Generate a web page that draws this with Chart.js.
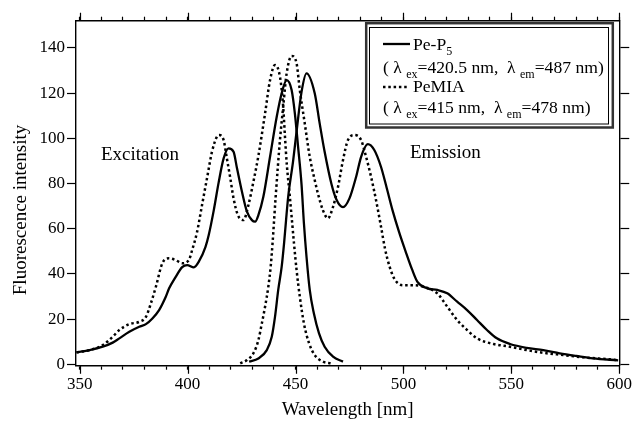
<!DOCTYPE html>
<html lang="en">
<head>
  <meta charset="UTF-8">
  <title>Fluorescence spectra: Pe-P5 and PeMIA</title>
  <script src="https://cdn.jsdelivr.net/npm/chart.js"></script>
  <style>
    body { margin: 0; background: #fff; }
    #wrap { width: 637px; height: 426px; position: relative; }
  </style>
</head>
<body>
  <div id="wrap"><canvas id="spectra"></canvas></div>

  <script>
    // Pe-P5 excitation (solid)
    const peP5ExWl  = [348.5, 354.6, 360.7, 365.3, 368.4, 373.0, 377.6, 380.7, 383.7, 386.8, 389.9, 391.4, 394.5, 397.5, 399.8, 402.9, 405.2, 408.3, 409.8, 412.1, 414.4, 416.7, 419.0, 421.3, 422.9, 425.2, 427.5, 429.8, 431.3, 432.8, 435.1, 438.2, 441.3, 443.6, 445.9, 448.2, 449.7, 451.2, 452.8, 453.9, 455.1, 456.6, 458.5, 460.9, 463.5, 467.4, 472.0];
    const peP5ExInt = [5.3, 6.3, 7.8, 9.6, 11.5, 14.4, 16.6, 17.8, 20.3, 24.0, 29.9, 33.5, 38.7, 43.0, 43.9, 42.9, 45.4, 52.0, 57.2, 68.0, 80.5, 91.1, 95.5, 94.0, 86.7, 76.3, 67.5, 63.8, 63.1, 66.0, 74.1, 91.8, 109.5, 119.9, 125.7, 121.3, 111.0, 96.2, 79.5, 62.4, 47.6, 32.9, 22.6, 13.7, 7.8, 3.4, 1.2];

    // Pe-P5 emission (solid)
    const peP5EmWl  = [428.5, 432.8, 436.7, 439.0, 440.5, 442.0, 443.6, 444.7, 445.6, 446.6, 448.9, 450.5, 452.8, 455.1, 458.9, 461.2, 463.5, 466.6, 468.9, 472.0, 475.0, 478.1, 480.4, 483.5, 486.5, 489.6, 492.0, 495.0, 498.0, 501.0, 504.0, 506.5, 511.1, 515.7, 520.3, 524.9, 529.5, 534.1, 538.7, 543.3, 549.4, 557.1, 564.8, 572.4, 580.1, 587.8, 599.5];
    const peP5EmInt = [1.2, 2.6, 6.3, 12.2, 21.0, 32.9, 43.2, 53.5, 63.5, 74.0, 90.0, 103.0, 120.5, 128.7, 119.9, 106.6, 94.0, 80.0, 73.0, 69.5, 73.4, 83.0, 91.8, 97.4, 94.8, 87.4, 79.0, 68.0, 58.5, 50.0, 42.0, 36.5, 33.6, 32.9, 31.4, 27.7, 24.0, 19.6, 15.2, 11.5, 9.0, 7.3, 6.3, 4.9, 3.7, 2.6, 1.8];

    // PeMIA excitation (dotted)
    const pemiaExWl  = [348.5, 354.6, 360.7, 365.3, 368.4, 373.0, 377.6, 380.7, 383.0, 385.3, 388.3, 391.4, 394.5, 397.5, 400.6, 402.1, 404.4, 406.7, 409.0, 411.3, 413.6, 414.7, 416.7, 418.2, 419.8, 421.3, 423.3, 425.9, 428.2, 430.5, 432.8, 435.9, 438.2, 440.5, 442.8, 444.3, 445.1, 446.0, 447.2, 448.2, 449.3, 450.5, 452.0, 453.9, 456.3, 458.9, 462.7, 466.6];
    const pemiaExInt = [5.3, 6.3, 8.5, 12.2, 15.2, 17.8, 18.8, 21.0, 27.0, 34.3, 44.7, 46.9, 46.1, 44.7, 46.1, 50.5, 58.6, 70.5, 82.3, 94.0, 100.7, 101.4, 99.2, 91.1, 82.3, 73.4, 66.0, 63.8, 70.5, 80.8, 92.2, 111.0, 125.7, 132.4, 127.2, 113.9, 101.0, 88.0, 76.0, 65.3, 53.5, 41.7, 29.9, 18.1, 9.3, 4.1, 1.2, 0.4];

    // PeMIA emission (dotted)
    const pemiaEmWl  = [424.4, 427.5, 430.5, 432.8, 434.4, 435.9, 437.4, 438.5, 439.4, 440.1, 440.8, 442.8, 444.3, 445.9, 448.2, 450.5, 452.0, 454.3, 456.6, 458.9, 460.4, 462.7, 465.0, 467.4, 469.7, 472.0, 474.3, 477.4, 480.4, 482.7, 485.0, 487.3, 489.6, 491.5, 493.5, 495.7, 498.0, 500.3, 504.9, 509.5, 515.7, 520.3, 524.9, 529.5, 534.1, 541.8, 549.4, 557.1, 564.8, 574.0, 583.3, 595.6, 599.5];
    const pemiaEmInt = [0.4, 1.9, 4.9, 10.7, 18.1, 25.5, 34.3, 43.2, 54.0, 64.0, 74.0, 99.2, 114.0, 128.7, 136.4, 133.1, 121.3, 106.5, 91.8, 81.5, 75.5, 68.2, 64.6, 69.7, 78.5, 90.3, 99.2, 101.4, 99.2, 91.8, 83.0, 72.7, 61.0, 51.0, 43.5, 38.0, 35.5, 35.0, 35.0, 34.3, 31.4, 25.5, 19.6, 15.2, 11.5, 9.0, 7.8, 6.3, 5.1, 4.1, 3.1, 2.2, 1.8];

    const xMajorTicks = [350, 400, 450, 500, 550, 600];

    const SERIF = "'Liberation Serif', 'Times New Roman', serif";

    function pts(xs, ys) {
      return xs.map((x, i) => ({ x: x, y: ys[i] }));
    }

    const solid  = { borderColor: '#000', borderWidth: 2.3, pointRadius: 0, cubicInterpolationMode: 'monotone', fill: false };
    const dotted = { borderColor: '#000', borderWidth: 2.5, borderDash: [2.5, 2.8], pointRadius: 0, cubicInterpolationMode: 'monotone', fill: false };

    // text made of normal and subscript runs
    function drawRuns(ctx, x, y, runs, size) {
      ctx.textAlign = 'left';
      ctx.textBaseline = 'alphabetic';
      runs.forEach(r => {
        if (r.sub) {
          ctx.font = Math.round(size * 0.66) + 'px ' + SERIF;
          ctx.fillText(r.t, x, y + 5);
        } else {
          ctx.font = size + 'px ' + SERIF;
          ctx.fillText(r.t, x, y);
        }
        x += ctx.measureText(r.t).width;
      });
    }

    const decor = {
      id: 'decor',
      afterDraw(chart) {
        const ctx = chart.ctx;
        const area = chart.chartArea;
        const xs = chart.scales.x;
        ctx.save();

        // longer ticks at every 50 nm, bottom and top
        ctx.strokeStyle = '#000';
        ctx.lineWidth = 1.2;
        ctx.beginPath();
        xMajorTicks.forEach(v => {
          const px = Math.round(xs.getPixelForValue(v)) + 0.5;
          ctx.moveTo(px, area.bottom);
          ctx.lineTo(px, area.bottom + 8);
          ctx.moveTo(px, area.top);
          ctx.lineTo(px, area.top - 8);
        });
        ctx.stroke();

        // y axis title
        ctx.fillStyle = '#000';
        ctx.save();
        ctx.translate(21, 210);
        ctx.rotate(-Math.PI / 2);
        ctx.font = '19px ' + SERIF;
        ctx.textAlign = 'center';
        ctx.textBaseline = 'middle';
        ctx.fillText('Fluorescence intensity', 0, 0);
        ctx.restore();

        // band labels
        ctx.font = '19px ' + SERIF;
        ctx.textAlign = 'left';
        ctx.textBaseline = 'alphabetic';
        ctx.fillText('Excitation', 101, 160);
        ctx.fillText('Emission', 410, 158);

        // legend box, double frame
        ctx.fillStyle = '#fff';
        ctx.fillRect(365, 22, 249, 107);
        ctx.strokeStyle = '#333';
        ctx.lineWidth = 2.5;
        ctx.strokeRect(366.2, 23.2, 246.6, 104.3);
        ctx.strokeStyle = '#000';
        ctx.lineWidth = 1;
        ctx.strokeRect(369.5, 27.5, 239, 96.5);

        // legend samples
        ctx.lineWidth = 2.3;
        ctx.beginPath();
        ctx.moveTo(383, 44);
        ctx.lineTo(410, 44);
        ctx.stroke();
        ctx.lineWidth = 2.5;
        ctx.setLineDash([2.5, 2.8]);
        ctx.beginPath();
        ctx.moveTo(383, 87);
        ctx.lineTo(408, 87);
        ctx.stroke();
        ctx.setLineDash([]);

        ctx.fillStyle = '#000';
        const fs = 17.6;
        drawRuns(ctx, 413, 50, [{ t: 'Pe-P' }, { t: '5', sub: true }], fs);
        drawRuns(ctx, 383, 73, [
          { t: '( \u03BB ' }, { t: 'ex', sub: true }, { t: '=420.5 nm,  \u03BB ' }, { t: 'em', sub: true }, { t: '=487 nm)' }
        ], fs);
        drawRuns(ctx, 413, 92, [{ t: 'PeMIA' }], fs);
        drawRuns(ctx, 383, 113, [
          { t: '( \u03BB ' }, { t: 'ex', sub: true }, { t: '=415 nm,  \u03BB ' }, { t: 'em', sub: true }, { t: '=478 nm)' }
        ], fs);

        ctx.restore();
      }
    };

    const tickFont = { family: SERIF, size: 17 };

    new Chart(document.getElementById('spectra'), {
      type: 'line',
      data: {
        datasets: [
          Object.assign({ label: 'Pe-P5 excitation', data: pts(peP5ExWl, peP5ExInt) }, solid),
          Object.assign({ label: 'Pe-P5 emission', data: pts(peP5EmWl, peP5EmInt) }, solid),
          Object.assign({ label: 'PeMIA excitation', data: pts(pemiaExWl, pemiaExInt) }, dotted),
          Object.assign({ label: 'PeMIA emission', data: pts(pemiaEmWl, pemiaEmInt) }, dotted)
        ]
      },
      options: {
        responsive: true,
        maintainAspectRatio: false,
        animation: false,
        layout: { padding: 0 },
        plugins: { legend: { display: false }, tooltip: { enabled: false } },
        scales: {
          x: {
            type: 'linear', position: 'bottom', min: 348.3, max: 600,
            ticks: {
              stepSize: 10, includeBounds: false, autoSkip: false, maxRotation: 0,
              color: '#000', font: tickFont, padding: 5,
              callback: v => (v % 50 === 0 ? String(v) : '')
            },
            grid: { drawOnChartArea: false, drawTicks: true, tickLength: 4, tickColor: '#000', tickWidth: 1.2 },
            border: { display: true, color: '#000', width: 1.4 },
            title: { display: true, text: 'Wavelength [nm]', color: '#000', font: { family: SERIF, size: 19 }, padding: { top: 0, bottom: 5 } },
            afterFit: s => { s.height = 60.3; }
          },
          x2: {
            type: 'linear', position: 'top', min: 348.3, max: 600,
            ticks: { display: false, stepSize: 10, includeBounds: false, autoSkip: false },
            grid: { drawOnChartArea: false, drawTicks: true, tickLength: 4, tickColor: '#000', tickWidth: 1.2 },
            border: { display: true, color: '#000', width: 1.4 },
            afterFit: s => { s.height = 20.7; }
          },
          y: {
            type: 'linear', position: 'left', min: -0.6, max: 152,
            ticks: { stepSize: 20, includeBounds: false, color: '#000', font: tickFont, padding: 2 },
            grid: { drawOnChartArea: false, drawTicks: true, tickLength: 9, tickColor: '#000', tickWidth: 1.2 },
            border: { display: true, color: '#000', width: 1.4 },
            afterFit: s => { s.width = 76; }
          },
          y2: {
            type: 'linear', position: 'right', min: -0.6, max: 152,
            ticks: { display: false, stepSize: 20, includeBounds: false },
            grid: { drawOnChartArea: false, drawTicks: true, tickLength: 10, tickColor: '#000', tickWidth: 1.2 },
            border: { display: true, color: '#000', width: 1.4 },
            afterFit: s => { s.width = 13.7; }
          }
        }
      },
      plugins: [decor]
    });
  </script>
</body>
</html>
